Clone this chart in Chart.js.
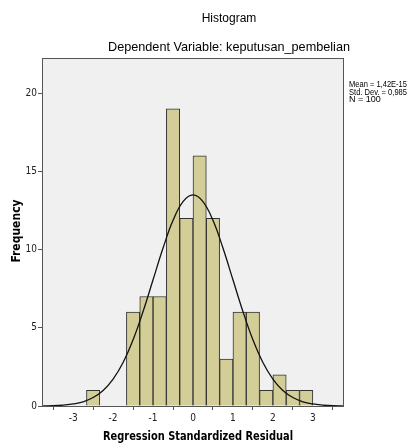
<!DOCTYPE html>
<html>
<head>
<meta charset="utf-8">
<script src="https://cdn.jsdelivr.net/npm/chart.js@4"></script>
<style>
  html, body { margin: 0; padding: 0; background: #fff; }
  #wrap { width: 409px; height: 445px; position: relative; }
</style>
</head>
<body>
<div id="wrap"><canvas id="histChart"></canvas></div>
<script>
// Histogram bins (left edge of each bin, width 1/3) and counts
const binEdges = [-2.667, -2.333, -2.0, -1.667, -1.333, -1.0, -0.667, -0.333, 0, 0.333, 0.667, 1.0, 1.333, 1.667, 2.0, 2.333, 2.667];
const binCounts = [1, 0, 0, 6, 7, 7, 19, 12, 16, 12, 3, 6, 6, 1, 2, 1, 1];
const binWidth = 1 / 3;

// Normal curve
const curveX = [-3.75, -3.5, -3.25, -3.0, -2.75, -2.5, -2.25, -2.0, -1.75, -1.5, -1.25, -1.0, -0.75, -0.5, -0.25, 0,
                0.25, 0.5, 0.75, 1.0, 1.25, 1.5, 1.75, 2.0, 2.25, 2.5, 2.75, 3.0, 3.25, 3.5, 3.75];
const curveY = [0.01, 0.02, 0.06, 0.13, 0.27, 0.54, 0.99, 1.72, 2.78, 4.23, 6.04, 8.07, 10.1, 11.87, 13.07, 13.5,
                13.07, 11.87, 10.1, 8.07, 6.04, 4.23, 2.78, 1.72, 0.99, 0.54, 0.27, 0.13, 0.06, 0.02, 0.01];

const xTicks = [-3, -2, -1, 0, 1, 2, 3];
const yTicks = [0, 5, 10, 15, 20];

const titleText = 'Histogram';
const subtitleText = 'Dependent Variable: keputusan_pembelian';
const statLines = ['Mean = 1,42E-15', 'Std. Dev. = 0,985', 'N = 100'];
const xTitle = 'Regression Standardized Residual';
const yTitle = 'Frequency';

const narrow = '"Liberation Sans Narrow", "DejaVu Sans Condensed", Arial, sans-serif';

// Draw gray plot background, frame and surrounding texts
const spssFrame = {
    id: 'spssFrame',
    beforeDatasetsDraw(chart) {
        const { ctx, chartArea: a } = chart;
        ctx.save();
        ctx.fillStyle = '#f0f0f0';
        ctx.fillRect(a.left, a.top, a.right - a.left, a.bottom - a.top);
        ctx.restore();
    },
    afterDraw(chart) {
        const { ctx, chartArea: a } = chart;
        ctx.save();
        ctx.strokeStyle = '#555';
        ctx.lineWidth = 1;
        ctx.strokeRect(a.left + 0.5, a.top + 0.5, a.right - a.left - 1, a.bottom - a.top);

        ctx.fillStyle = '#000';
        ctx.textAlign = 'center';
        ctx.textBaseline = 'middle';
        ctx.font = '12px "Liberation Sans", Arial, sans-serif';
        ctx.fillText(titleText, 229, 19);
        ctx.font = '12.8px "Liberation Sans", Arial, sans-serif';
        ctx.fillText(subtitleText, 229, 47, 242);

        ctx.font = 'bold 12px ' + narrow;
        ctx.fillText(xTitle, 198, 437, 190);

        ctx.save();
        ctx.translate(17, 231);
        ctx.rotate(-Math.PI / 2);
        ctx.fillText(yTitle, 0, 0, 75);
        ctx.restore();

        ctx.textAlign = 'left';
        ctx.font = '9px "Liberation Sans", Arial, sans-serif';
        statLines.forEach((line, i) => {
            ctx.fillText(line, 349, 85 + i * 7.5, 58);
        });
        ctx.restore();
    }
};

const ctx = document.getElementById('histChart').getContext('2d');
new Chart(ctx, {
    data: {
        datasets: [{
            type: 'line',
            data: curveX.map((x, i) => ({ x: x, y: curveY[i] })),
            borderColor: '#111',
            borderWidth: 1.3,
            pointRadius: 0,
            tension: 0.4,
            fill: false,
            order: 0
        }, {
            type: 'bar',
            data: binEdges.map((e, i) => ({ x: e + binWidth / 2, y: binCounts[i] })),
            backgroundColor: '#d3ce97',
            borderColor: '#333',
            borderWidth: 1,
            barPercentage: 1,
            categoryPercentage: 1,
            order: 1
        }]
    },
    options: {
        responsive: true,
        maintainAspectRatio: false,
        animation: false,
        layout: { padding: { top: 58, right: 65, left: 0, bottom: 0 } },
        plugins: {
            legend: { display: false },
            tooltip: { enabled: false }
        },
        scales: {
            x: {
                type: 'linear',
                min: -3.78,
                max: 3.78,
                offset: false,
                afterBuildTicks: (scale) => { scale.ticks = xTicks.map(v => ({ value: v })); },
                afterFit: (scale) => { scale.height = 39; },
                grid: { drawOnChartArea: false, drawTicks: true, tickLength: 4, color: '#555' },
                border: { display: false },
                ticks: {
                    font: { family: narrow, size: 10 },
                    color: '#222',
                    padding: 2,
                    maxRotation: 0
                }
            },
            y: {
                min: 0,
                max: 22.25,
                afterBuildTicks: (scale) => { scale.ticks = yTicks.map(v => ({ value: v })); },
                afterFit: (scale) => { scale.width = 42; },
                grid: { drawOnChartArea: false, drawTicks: true, tickLength: 4, color: '#555' },
                border: { display: false },
                ticks: {
                    font: { family: narrow, size: 10 },
                    color: '#222',
                    padding: 1
                }
            }
        }
    },
    plugins: [spssFrame]
});
</script>
</body>
</html>
